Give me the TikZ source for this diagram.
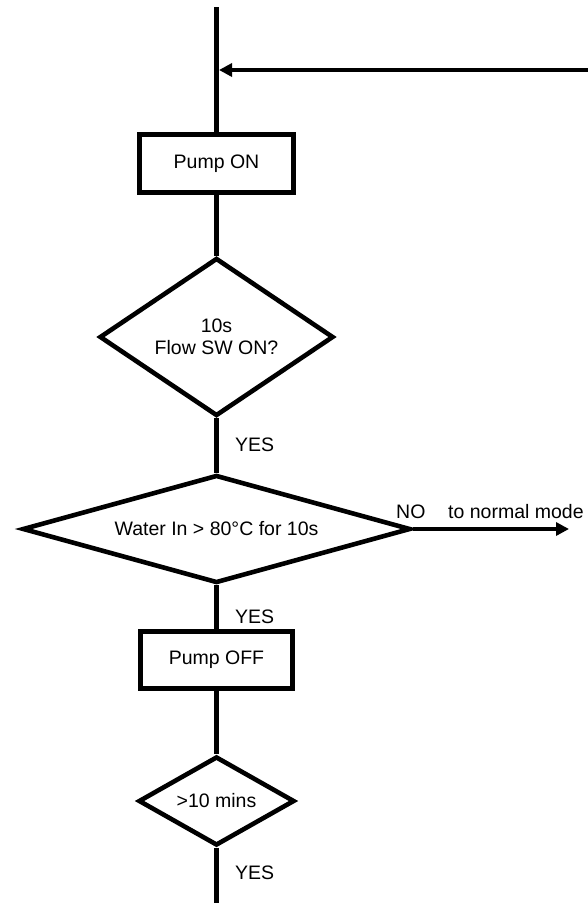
\documentclass[tikz,border=0pt]{standalone}
\usepackage{fontspec}
\setmainfont{Liberation Sans}
\usetikzlibrary{shapes.geometric,arrows.meta}
\tikzset{
  every node/.style={font=\fontsize{19.5}{23}\selectfont},
  conn/.style={line width=4.6pt, draw=black},
  procbox/.style={rectangle, draw=black, line width=4.6pt, fill=white, inner sep=0pt},
  decide/.style={diamond, draw=black, line width=4.6pt, fill=white, inner sep=0pt, align=center},
  lbl/.style={anchor=west, inner sep=0pt},
  tip/.style={-{Triangle[length=13pt,width=13pt]}}
}
\begin{document}
\begin{tikzpicture}[x=1pt,y=-1pt]
\useasboundingbox (0,0) rectangle (588,903);
% nodes
\coordinate (top) at (216.5,7);
\coordinate (join) at (219,70);
\coordinate (rin) at (588,70);
\node[procbox, minimum width=154pt, minimum height=58pt] (pon) at (216.5,163.5) {Pump ON};
\node[decide, shape aspect=1.5, minimum width=234pt, minimum height=158pt] (d1) at (216.5,337) {10s\\[-1pt]Flow SW ON?};
\node[decide, shape aspect=3.6, minimum width=388pt, minimum height=108pt] (d2) at (216.5,529) {Water In > 80°C for 10s};
\node[procbox, minimum width=152pt, minimum height=57pt] (poff) at (216.5,660) {Pump OFF};
\node[decide, shape aspect=1.9, minimum width=156pt, minimum height=89pt] (d3) at (216.5,801) {>10 mins};
\coordinate (bot) at (216.5,903);
\coordinate (nm) at (569,529);
% labels
\node[lbl] (y1) at (235,445) {YES};
\node[lbl] (y2) at (235,617) {YES};
\node[lbl] (y3) at (235,873) {YES};
\node[lbl] (no) at (396,512) {NO};
\node[lbl] (tn) at (448,512) {to normal mode};
% connectors
\draw[conn] (top) -- (pon.north);
\draw[conn, tip] (rin) -- (join);
\draw[conn] (pon.south) -- (d1.north);
\draw[conn] (d1.south) -- (d2.north);
\draw[conn] (d2.south) -- (poff.north);
\draw[conn] (poff.south) -- (d3.north);
\draw[conn] (d3.south) -- (bot);
\draw[conn, tip] (d2.east) -- (nm);
\end{tikzpicture}
\end{document}
